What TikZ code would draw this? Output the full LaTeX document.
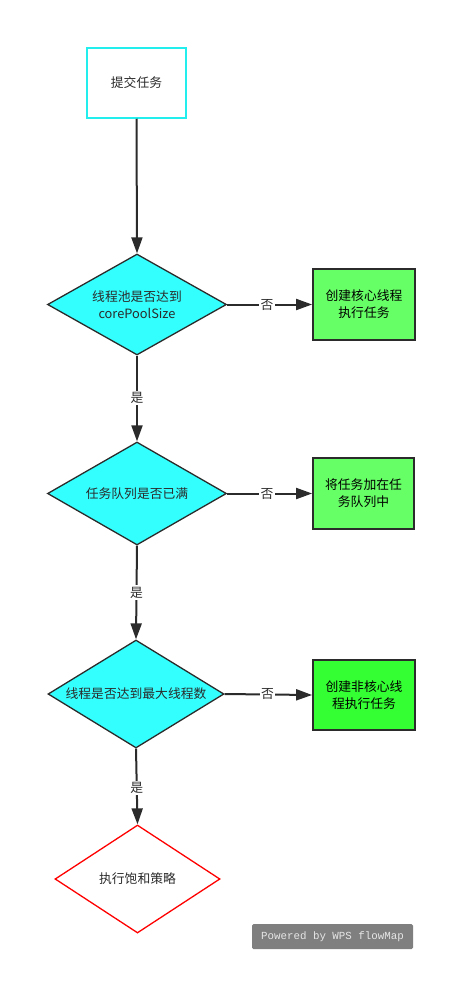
\documentclass[tikz,border=0pt]{standalone}
\usepackage{fontspec}
\setmainfont{Noto Sans CJK SC}
\newfontfamily\wmfont{Liberation Mono}
\usetikzlibrary{shapes.geometric,arrows.meta}
\definecolor{dark}{HTML}{2B2B2B}
\definecolor{cyanf}{HTML}{33FFFF}
\definecolor{cyanb}{HTML}{22EEEE}
\definecolor{greenA}{HTML}{66FF66}
\definecolor{greenB}{HTML}{33FF33}
\definecolor{wmgray}{HTML}{7F7F7F}
\definecolor{wmtext}{HTML}{E6E6E6}
\begin{document}
\begin{tikzpicture}[x=1pt,y=-1pt,
  font=\fontsize{12.8}{17}\selectfont,
  line/.style={draw=dark, line width=2pt},
  arr/.style={line, -{Triangle[length=16pt,width=11pt]}},
  dia/.style={diamond, draw=dark, line width=1.3pt, fill=cyanf, inner sep=0pt},
  box/.style={rectangle, draw=dark, line width=1.8pt, align=center, inner sep=0pt},
  txt/.style={align=center, inner sep=0pt, text=dark},
  lab/.style={fill=white, inner sep=1.5pt, text=dark}]
\useasboundingbox (0,0) rectangle (476,993);

\node[rectangle, draw=cyanb, line width=1.5pt, fill=white, minimum width=99pt, minimum height=70pt, text=dark] (s) at (136.5,83) {提交任务};

\node[dia, minimum width=179pt, minimum height=101pt] (d1) at (137,304.5) {};
\node[txt] (t1) at (137,304.5) {线程池是否达到\\corePoolSize};
\node[box, fill=greenA, minimum width=102pt, minimum height=71pt] (b1) at (364,304.5) {创建核心线程\\执行任务};

\node[dia, minimum width=179pt, minimum height=103pt] (d2) at (137,493.5) {};
\node[txt] (t2) at (137,493.5) {任务队列是否已满};
\node[box, fill=greenA, minimum width=101pt, minimum height=71pt] (b2) at (363.5,493.5) {将任务加在任\\务队列中};

\node[dia, minimum width=176pt, minimum height=108pt] (d3) at (136,694) {};
\node[txt] (t3) at (136,694) {线程是否达到最大线程数};
\node[box, fill=greenB, minimum width=102pt, minimum height=70pt] (b3) at (364,695) {创建非核心线\\程执行任务};

\node[diamond, draw=red, line width=1.3pt, fill=white, inner sep=0pt, minimum width=165pt, minimum height=108pt] (d4) at (137.5,879) {};
\node[txt] (t4) at (137.5,879) {执行饱和策略};

\node[rectangle, rounded corners=1.5pt, fill=wmgray, minimum width=161pt, minimum height=25pt, inner sep=0pt, text=wmtext, font=\wmfont\fontsize{10.8}{12}\selectfont] (wm) at (332.5,936.5) {Powered by WPS flowMap};

\draw[arr] (s.south) -- (d1.north);
\draw[arr] (d1.east) -- node[lab, pos=0.47] {否} (b1.west);
\draw[arr] (d1.south) -- node[lab, pos=0.49] {是} (d2.north);
\draw[arr] (d2.east) -- node[lab, pos=0.47] {否} (b2.west);
\draw[arr] (d2.south) -- node[lab, pos=0.5] {是} (d3.north);
\draw[arr] (d3.east) -- node[lab, pos=0.49] {否} (b3.west);
\draw[arr] (d3.south) -- node[lab, pos=0.52] {是} (d4.north);
\end{tikzpicture}
\end{document}
